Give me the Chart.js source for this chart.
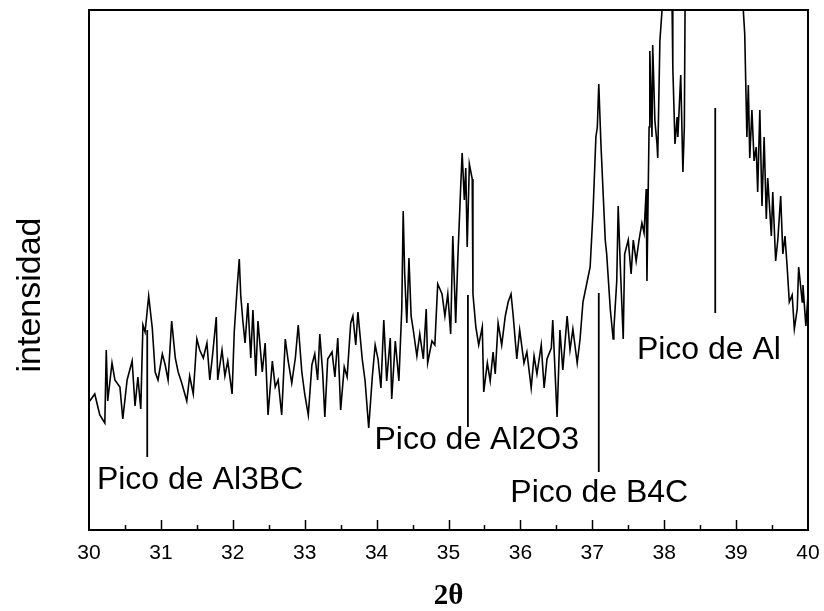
<!DOCTYPE html>
<html>
<head>
<meta charset="utf-8">
<script src="https://cdn.jsdelivr.net/npm/chart.js@4.4.0/dist/chart.umd.min.js"></script>
<style>
html, body { margin: 0; padding: 0; background: #fff; }
#grafico { display: block; }
</style>
</head>
<body>
<canvas id="grafico" width="824" height="611"></canvas>
<script>
const theta = [
    30.01,30.08,30.15,30.22,30.24,30.26,30.32,30.36,30.43,30.47,30.53,30.60,30.64,30.68,30.72,30.75,30.78,30.83,30.88,30.92,30.96,
    31.02,31.06,31.10,31.15,31.20,31.24,31.29,31.36,31.40,31.45,31.50,31.54,31.59,31.64,31.68,31.72,31.77,31.79,31.85,31.89,31.93,31.99,
    32.02,32.06,32.09,32.11,32.14,32.17,32.21,32.25,32.28,32.32,32.35,32.41,32.45,32.49,32.55,32.59,32.63,32.68,32.73,32.77,32.82,32.87,32.91,32.96,
    33.00,33.05,33.10,33.14,33.18,
    33.21,33.25,33.28,33.32,33.38,33.42,33.46,33.50,33.55,33.59,33.64,33.67,33.71,33.74,33.80,33.84,33.89,33.94,33.98,
    34.02,34.06,34.10,34.14,34.19,34.21,34.26,34.31,34.35,34.37,34.39,34.42,34.45,34.48,34.51,34.56,34.60,34.65,34.69,34.71,34.77,34.81,34.85,34.91,34.95,34.99,
    35.03,35.06,35.10,35.13,35.17,35.19,35.22,35.24,35.26,35.29,35.33,35.34,35.38,35.42,35.47,35.49,35.54,35.58,35.62,35.65,35.69,35.74,35.79,35.83,35.87,35.90,35.95,35.99,
    36.05,36.09,36.15,36.19,36.23,36.29,36.33,36.37,36.43,36.45,36.51,36.55,36.59,36.65,
    36.69,36.73,36.79,36.83,36.87,36.93,36.97,
    37.01,37.05,37.07,37.09,37.12,37.15,37.18,37.20,37.25,37.29,37.30,37.34,37.36,37.39,37.43,37.45,37.50,37.54,37.57,37.61,37.65,37.69,37.72,37.75,37.76,37.79,37.80,37.83,37.84,37.87,37.90,37.91,37.94,37.97,
    38.01,38.08,38.11,38.12,38.15,38.18,38.19,38.23,38.26,38.28,38.29,38.36,38.70,
    39.05,39.10,39.12,39.15,39.17,39.19,39.22,39.25,39.28,39.30,39.33,39.36,39.39,39.42,39.44,39.49,39.51,39.55,39.58,39.62,39.65,39.68,39.71,39.74,39.78,39.81,39.85,39.87,39.92,39.93,39.97,40.00
];

// intensidad (u.a.), el eje llega a 520, lo que pasa de ahi queda cortado
const intensidad = [
    129,136,115,107,180,129,167,150,143,111,150,169,124,153,121,205,198,234,202,158,150,
    176,165,150,209,172,158,147,129,154,136,191,180,172,187,150,176,213,150,180,154,169,136,
    198,242,271,235,209,187,227,172,220,154,209,158,187,115,169,143,150,115,191,169,147,172,205,158,
    136,115,165,176,150,
    196,157,113,171,178,153,192,120,163,153,207,214,185,218,171,149,102,153,185,
    171,142,210,149,192,131,189,149,221,319,257,207,272,214,200,174,196,171,221,167,189,185,246,236,214,236,
    196,294,207,272,344,377,330,362,283,366,351,236,203,185,203,138,167,149,178,156,207,185,214,228,236,214,171,200,
    167,178,142,174,156,185,142,171,182,210,113,200,160,214,
    180,201,167,191,228,249,263,
    318,393,403,446,386,338,290,276,221,191,201,249,324,263,191,276,290,256,290,269,290,307,297,341,249,403,479,393,485,410,386,372,489,520,
    600,600,520,462,386,413,393,455,358,403,520,620,700,
    600,520,496,393,445,372,420,369,383,338,420,324,393,311,352,294,338,269,290,334,276,294,263,228,235,201,221,263,228,245,204,235
];

// lineas que marcan cada pico
const picoNombre = ['Pico de Al3BC', 'Pico de Al2O3', 'Pico de B4C', 'Pico de Al'];
const picoTheta  = [30.81, 35.27, 37.09, 38.71];
const picoDesde  = [73, 103, 58, 217];
const picoHasta  = [200, 235, 237, 422];

const ticksX = [30, 31, 32, 33, 34, 35, 36, 37, 38, 39, 40];

const fuente = '"Liberation Sans", Arial, sans-serif';

// donde va escrito cada nombre (theta, intensidad de la linea media del texto)
const lugarEtiqueta = [[30.11, 50], [33.97, 90], [35.86, 37], [37.62, 180]];

const datasets = [{
    data: theta.map((t, i) => ({ x: t, y: intensidad[i] })),
    borderColor: '#000',
    borderWidth: 1.6,
    pointRadius: 0,
    tension: 0
}];
picoTheta.forEach((t, i) => {
    datasets.push({
        data: [{ x: t, y: picoDesde[i] }, { x: t, y: picoHasta[i] }],
        borderColor: '#000',
        borderWidth: 1.8,
        pointRadius: 0
    });
});

const marco = {
    id: 'marco',
    afterDraw(chart) {
        const { ctx, chartArea: a, scales } = chart;
        ctx.save();
        ctx.strokeStyle = '#000';
        ctx.lineWidth = 2;
        ctx.strokeRect(a.left, a.top, a.right - a.left, a.bottom - a.top);
        ctx.lineWidth = 1.5;
        for (let v = 30.5; v < 40; v += 0.5) {
            const x = Math.round(scales.x.getPixelForValue(v)) + 0.5;
            const largo = Number.isInteger(v) ? 10 : 5;
            ctx.beginPath();
            ctx.moveTo(x, a.bottom);
            ctx.lineTo(x, a.bottom - largo);
            ctx.stroke();
        }
        // titulo del eje vertical
        ctx.fillStyle = '#000';
        ctx.font = '34px ' + fuente;
        ctx.textAlign = 'center';
        ctx.textBaseline = 'middle';
        ctx.translate(31, 295);
        ctx.rotate(-Math.PI / 2);
        ctx.fillText('intensidad', 0, 0);
        ctx.restore();
    }
};

const etiquetas = {
    id: 'etiquetas',
    afterDraw(chart) {
        const { ctx, scales } = chart;
        ctx.save();
        ctx.fillStyle = '#000';
        ctx.font = '32px ' + fuente;
        ctx.textBaseline = 'middle';
        ctx.textAlign = 'left';
        picoNombre.forEach((n, i) => {
            const p = lugarEtiqueta[i];
            ctx.fillText(n, scales.x.getPixelForValue(p[0]), scales.y.getPixelForValue(p[1]));
        });
        ctx.restore();
    }
};

new Chart(document.getElementById('grafico'), {
    type: 'line',
    data: { datasets },
    options: {
        responsive: false,
        animation: false,
        events: [],
        layout: { padding: { top: 10, right: 16, left: 0, bottom: 0 } },
        plugins: { legend: { display: false }, tooltip: { enabled: false } },
        scales: {
            x: {
                type: 'linear',
                min: 30, max: 40,
                afterFit: s => { s.height = 81; s.paddingLeft = 0; s.paddingRight = 0; },
                afterBuildTicks: s => { s.ticks = ticksX.map(v => ({ value: v })); },
                grid: { display: false, drawTicks: false },
                border: { display: false },
                ticks: { color: '#000', font: { family: fuente, size: 21 }, padding: 11, maxRotation: 0, autoSkip: false },
                title: { display: true, text: '2θ', color: '#000', font: { family: '"Liberation Serif", "Times New Roman", serif', size: 29, weight: 'bold', lineHeight: 1 }, padding: { top: 0, bottom: 0 } }
            },
            y: {
                min: 0, max: 520,
                afterFit: s => { s.width = 89; },
                grid: { display: false, drawTicks: false },
                border: { display: false },
                ticks: { display: false },
                title: { display: false }
            }
        }
    },
    plugins: [marco, etiquetas]
});
</script>
</body>
</html>
